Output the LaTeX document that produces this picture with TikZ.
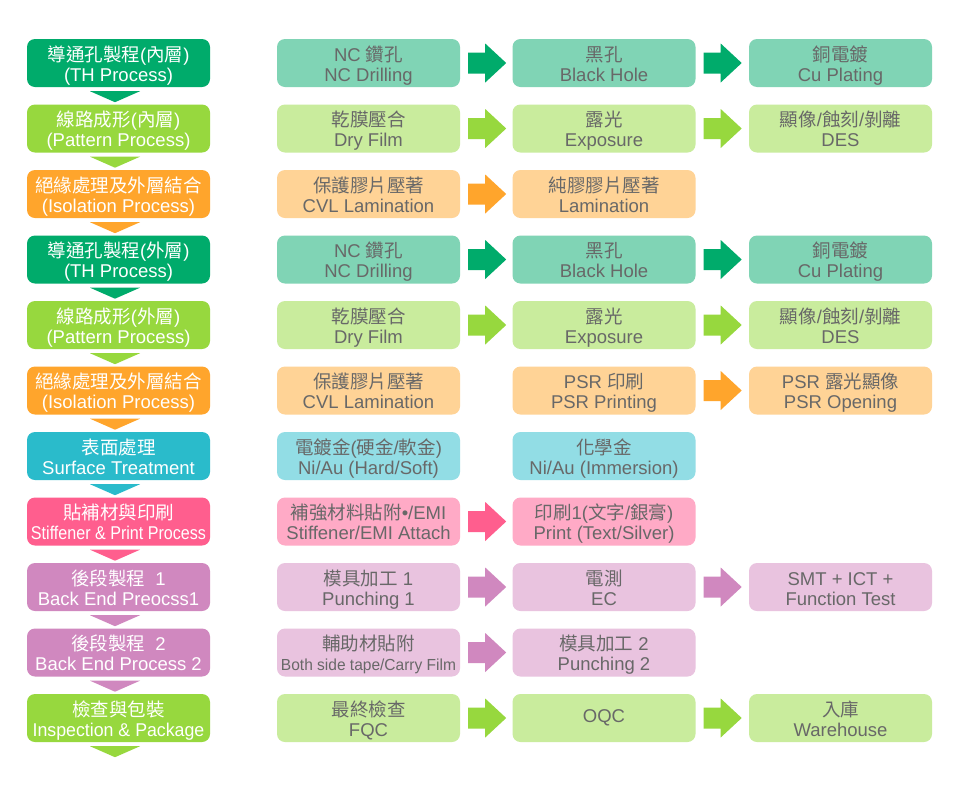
\documentclass[tikz,border=0pt]{standalone}
\usepackage{fontspec}
\usepackage{graphicx}
\setmainfont{Liberation Sans}
\newfontfamily\cjkfont{Noto Sans CJK TC}
\usetikzlibrary{calc}
\newcommand\zh[1]{{\cjkfont\fontsize{18.5}{20}\selectfont #1}}
\newcommand\twol[2]{\rule{0pt}{21pt}#1\\#2\rule[-5pt]{0pt}{5pt}}
\newcommand\rarr[2]{\fill[#1] ($(#2.east)+(8,-10.5)$) -- ++(17,0) -- ++(0,-9) -- ++(21,19.5) -- ++(-21,19.5) -- ++(0,-9) -- ++(-17,0) -- cycle;}
\newcommand\darr[2]{\fill[#1] ($(#2.south)+(-28.5,4)$) -- ++(50,0) -- ++(-25,11) -- cycle;}
\definecolor{cDg}{HTML}{00AB6B}
\definecolor{cDgl}{HTML}{80D4B5}
\definecolor{cLg}{HTML}{97D83E}
\definecolor{cLgl}{HTML}{C9EC9D}
\definecolor{cOr}{HTML}{FFA52C}
\definecolor{cOrl}{HTML}{FFD396}
\definecolor{cTl}{HTML}{2ABBCB}
\definecolor{cTll}{HTML}{92DDE5}
\definecolor{cPk}{HTML}{FF5E8E}
\definecolor{cPkl}{HTML}{FFAAC6}
\definecolor{cPu}{HTML}{D088BF}
\definecolor{cPul}{HTML}{E9C3DF}
\definecolor{cTxt}{HTML}{686868}
\begin{document}
\begin{tikzpicture}[x=1pt,y=-1pt,
  box/.style={rounded corners=8pt, minimum width=183pt, minimum height=48pt,
    inner sep=0pt, align=center, font=\fontsize{18.5}{20}\selectfont},
  mainbox/.style={box, fill=#1, text=white},
  subbox/.style={box, fill=#1, text=cTxt}]
\useasboundingbox (0,0) rectangle (957,801);
\fill[white] (0,0) rectangle (957,801);

% row 1
\node[mainbox=cDg] (L1) at (118.5,63) {\twol{\zh{導通孔製程}(\zh{內層})}{(TH Process)}};
\node[subbox=cDgl] (A1) at (368.5,63) {\twol{NC \zh{鑽孔}}{NC Drilling}};
\node[subbox=cDgl] (B1) at (604,63) {\twol{\zh{黑孔}}{Black Hole}};
\node[subbox=cDgl] (C1) at (840.5,63) {\twol{\zh{銅電鍍}}{Cu Plating}};
\rarr{cDg}{A1} \rarr{cDg}{B1}
% row 2
\node[mainbox=cLg] (L2) at (118.5,128.5) {\twol{\zh{線路成形}(\zh{內層})}{(Pattern Process)}};
\node[subbox=cLgl] (A2) at (368.5,128.5) {\twol{\zh{乾膜壓合}}{Dry Film}};
\node[subbox=cLgl] (B2) at (604,128.5) {\twol{\zh{露光}}{Exposure}};
\node[subbox=cLgl] (C2) at (840.5,128.5) {\twol{\zh{顯像}/\zh{蝕刻}/\zh{剝離}}{DES}};
\rarr{cLg}{A2} \rarr{cLg}{B2}
% row 3
\node[mainbox=cOr] (L3) at (118.5,194) {\twol{\zh{絕緣處理及外層結合}}{(Isolation Process)}};
\node[subbox=cOrl] (A3) at (368.5,194) {\twol{\zh{保護膠片壓著}}{CVL Lamination}};
\node[subbox=cOrl] (B3) at (604,194) {\twol{\zh{純膠膠片壓著}}{Lamination}};
\rarr{cOr}{A3}
% row 4
\node[mainbox=cDg] (L4) at (118.5,259.5) {\twol{\zh{導通孔製程}(\zh{外層})}{(TH Process)}};
\node[subbox=cDgl] (A4) at (368.5,259.5) {\twol{NC \zh{鑽孔}}{NC Drilling}};
\node[subbox=cDgl] (B4) at (604,259.5) {\twol{\zh{黑孔}}{Black Hole}};
\node[subbox=cDgl] (C4) at (840.5,259.5) {\twol{\zh{銅電鍍}}{Cu Plating}};
\rarr{cDg}{A4} \rarr{cDg}{B4}
% row 5
\node[mainbox=cLg] (L5) at (118.5,325) {\twol{\zh{線路成形}(\zh{外層})}{(Pattern Process)}};
\node[subbox=cLgl] (A5) at (368.5,325) {\twol{\zh{乾膜壓合}}{Dry Film}};
\node[subbox=cLgl] (B5) at (604,325) {\twol{\zh{露光}}{Exposure}};
\node[subbox=cLgl] (C5) at (840.5,325) {\twol{\zh{顯像}/\zh{蝕刻}/\zh{剝離}}{DES}};
\rarr{cLg}{A5} \rarr{cLg}{B5}
% row 6
\node[mainbox=cOr] (L6) at (118.5,390.5) {\twol{\zh{絕緣處理及外層結合}}{(Isolation Process)}};
\node[subbox=cOrl] (A6) at (368.5,390.5) {\twol{\zh{保護膠片壓著}}{CVL Lamination}};
\node[subbox=cOrl] (B6) at (604,390.5) {\twol{PSR \zh{印刷}}{PSR Printing}};
\node[subbox=cOrl] (C6) at (840.5,390.5) {\twol{PSR \zh{露光顯像}}{PSR Opening}};
\rarr{cOr}{B6}
% row 7
\node[mainbox=cTl] (L7) at (118.5,456) {\twol{\zh{表面處理}}{Surface Treatment}};
\node[subbox=cTll] (A7) at (368.5,456) {\twol{\zh{電鍍金}(\zh{硬金}/\zh{軟金})}{Ni/Au (Hard/Soft)}};
\node[subbox=cTll] (B7) at (604,456) {\twol{\zh{化學金}}{Ni/Au (Immersion)}};
% row 8
\node[mainbox=cPk] (L8) at (118.5,521.5) {\twol{\zh{貼補材與印刷}}{\scalebox{0.87}[1]{Stiffener \& Print Process}}};
\node[subbox=cPkl] (A8) at (368.5,521.5) {\twol{\zh{補強材料貼附}•/EMI}{Stiffener/EMI Attach}};
\node[subbox=cPkl] (B8) at (604,521.5) {\twol{\zh{印刷}1(\zh{文字}/\zh{銀膏})}{Print (Text/Silver)}};
\rarr{cPk}{A8}
% row 9
\node[mainbox=cPu] (L9) at (118.5,587) {\twol{\zh{後段製程}\ \ 1}{Back End Preocss1}};
\node[subbox=cPul] (A9) at (368.5,587) {\twol{\zh{模具加工} 1}{Punching 1}};
\node[subbox=cPul] (B9) at (604,587) {\twol{\zh{電測}}{EC}};
\node[subbox=cPul] (C9) at (840.5,587) {\twol{SMT + ICT +}{Function Test}};
\rarr{cPu}{A9} \rarr{cPu}{B9}
% row 10
\node[mainbox=cPu] (L10) at (118.5,652.5) {\twol{\zh{後段製程}\ \ 2}{Back End Process 2}};
\node[subbox=cPul] (A10) at (368.5,652.5) {\twol{\zh{輔助材貼附}}{{\fontsize{16}{20}\selectfont\scalebox{0.97}[1]{Both side tape/Carry Film}}}};
\node[subbox=cPul] (B10) at (604,652.5) {\twol{\zh{模具加工} 2}{Punching 2}};
\rarr{cPu}{A10}
% row 11
\node[mainbox=cLg] (L11) at (118.5,718) {\twol{\zh{檢查與包裝}}{\scalebox{0.96}[1]{Inspection \& Package}}};
\node[subbox=cLgl] (A11) at (368.5,718) {\twol{\zh{最終檢查}}{FQC}};
\node[subbox=cLgl] (B11) at (604,718) {OQC};
\node[subbox=cLgl] (C11) at (840.5,718) {\twol{\zh{入庫}}{Warehouse}};
\rarr{cLg}{A11} \rarr{cLg}{B11}

% down arrows
\darr{cDg}{L1} \darr{cLg}{L2} \darr{cOr}{L3} \darr{cDg}{L4} \darr{cLg}{L5}
\darr{cOr}{L6} \darr{cTl}{L7} \darr{cPk}{L8} \darr{cPu}{L9} \darr{cPu}{L10}
\darr{cLg}{L11}
\end{tikzpicture}
\end{document}
